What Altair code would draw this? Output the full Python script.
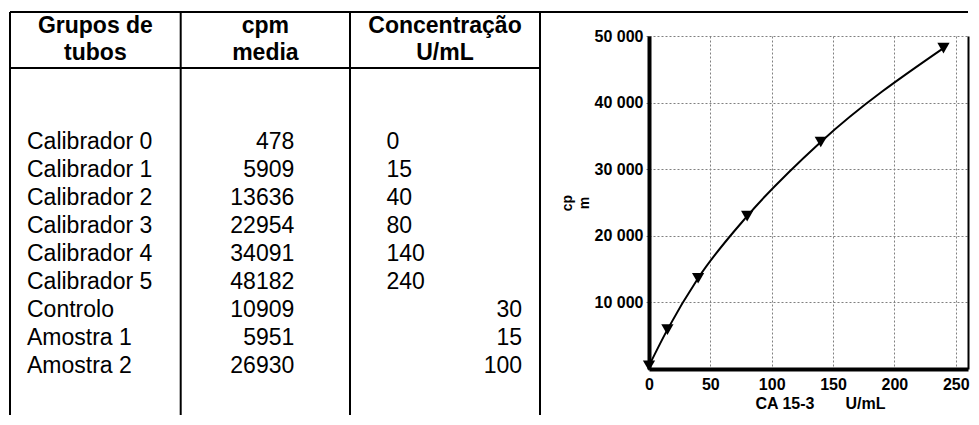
import altair as alt
import pandas as pd

# ---------------- data ----------------
grupos = ["Calibrador 0", "Calibrador 1", "Calibrador 2", "Calibrador 3",
          "Calibrador 4", "Calibrador 5", "Controlo", "Amostra 1", "Amostra 2"]
cpm_media = [478, 5909, 13636, 22954, 34091, 48182, 10909, 5951, 26930]
conc_calibradores = [0, 15, 40, 80, 140, 240]
conc_amostras = [30, 15, 100]
cabecalhos = [["Grupos de", "tubos"], ["cpm", "media"], ["Concentração", "U/mL"]]
x_ticks = [0, 50, 100, 150, 200, 250]
y_ticks = [10000, 20000, 30000, 40000, 50000]
x_titulo = "CA 15-3" + "\u00a0" * 7 + "U/mL"
y_titulo = ["cp", "m"]

FONT = "Liberation Sans"

tabela_df = pd.DataFrame({"grupo": grupos, "cpm": cpm_media})
cal_df = pd.DataFrame({"grupo": grupos[:6], "conc": conc_calibradores, "cpm": cpm_media[:6]})
amo_df = pd.DataFrame({"grupo": grupos[6:], "conc": conc_amostras})
one = alt.Data(values=[{"k": 1}])

# ---------------- table ----------------
TW, TH = 530, 333
row_scale = alt.Scale(type="point", domain=grupos, range=[112.5, 337.3], padding=0)
Y_row = alt.Y("grupo:N", scale=row_scale, axis=None)
txt = dict(font=FONT, fontSize=23, baseline="alphabetic", color="black")

layers = []
col_left = [0, 170.7, 340, 530]
layers.append(alt.Chart(one).mark_rule(color="black", strokeWidth=2).encode(
    x=alt.value(0), x2=alt.value(958), y=alt.value(-24)))
layers.append(alt.Chart(one).mark_rule(color="black", strokeWidth=2).encode(
    x=alt.value(0), x2=alt.value(530), y=alt.value(32)))
for px in col_left:
    layers.append(alt.Chart(one).mark_rule(color="black", strokeWidth=2).encode(
        x=alt.value(px), y=alt.value(-24), y2=alt.value(379)))

centros = [85.4, 255.4, 435]
for cab, cx in zip(cabecalhos, centros):
    layers.append(alt.Chart(one).mark_text(align="center", fontWeight="bold",
                                           lineHeight=26.7, **txt).encode(
        x=alt.value(cx), y=alt.value(-2.7), text=alt.value(cab)))

layers.append(alt.Chart(tabela_df).mark_text(align="left", **txt).encode(
    x=alt.value(17), y=Y_row, text="grupo:N"))
layers.append(alt.Chart(tabela_df).mark_text(align="right", **txt).encode(
    x=alt.value(284.3), y=Y_row, text=alt.Text("cpm:Q", format="d")))
layers.append(alt.Chart(cal_df).mark_text(align="left", **txt).encode(
    x=alt.value(376.5), y=Y_row, text=alt.Text("conc:Q", format="d")))
layers.append(alt.Chart(amo_df).mark_text(align="right", **txt).encode(
    x=alt.value(512), y=Y_row, text=alt.Text("conc:Q", format="d")))

tabela = alt.layer(*layers).properties(width=TW, height=TH)

# ---------------- calibration curve ----------------
xscale = alt.Scale(domain=[0, 260], nice=False)
yscale = alt.Scale(domain=[0, 50000], nice=False)

X = alt.X("conc:Q", scale=xscale, axis=alt.Axis(
    values=x_ticks, title=x_titulo, titleX=171,
    domainColor="black", domainWidth=4, ticks=False,
    labelFont=FONT, labelFontSize=16, labelFontWeight="bold", labelColor="black",
    labelPadding=7, labelFlush=False,
    grid=True, gridColor="#808080", gridDash=[2, 2], gridWidth=1,
    titleFont=FONT, titleFontSize=16, titleFontWeight="bold", titleColor="black",
    titlePadding=3))

Y = alt.Y("cpm:Q", scale=yscale, axis=alt.Axis(
    values=y_ticks, title=y_titulo,
    labelExpr="replace(format(datum.value, ','), ',', '\u00a0')",
    domainColor="black", domainWidth=4,
    ticks=True, tickColor="#808080", tickSize=3,
    labelFont=FONT, labelFontSize=16, labelFontWeight="bold", labelColor="black",
    labelPadding=3,
    grid=True, gridColor="#808080", gridDash=[2, 2], gridWidth=1,
    titleFont=FONT, titleFontSize=14, titleFontWeight="bold", titleColor="black",
    titleLineHeight=17, titlePadding=3))

Y_right = alt.Y("cpm:Q", scale=yscale, axis=alt.Axis(
    orient="right", labels=False, ticks=False, grid=False, title=None,
    domainColor="black", domainWidth=2))

curva = alt.Chart(cal_df).mark_line(color="black", strokeWidth=2,
                                     interpolate="monotone").encode(x=X, y=Y)
pontos = alt.Chart(cal_df).mark_point(shape="triangle-down", filled=True,
                                      color="black", size=150, opacity=1).encode(x=X, y=Y_right)

grafico = alt.layer(curva, pontos).resolve_axis(y="independent").properties(width=319, height=333)

chart = alt.hconcat(tabela, grafico, spacing=109, bounds="flush").properties(
    padding={"left": 1, "top": 3, "right": 0, "bottom": 0}
).configure_view(stroke=None)

chart.save("out.html", embed_options={"renderer": "svg", "actions": False})
